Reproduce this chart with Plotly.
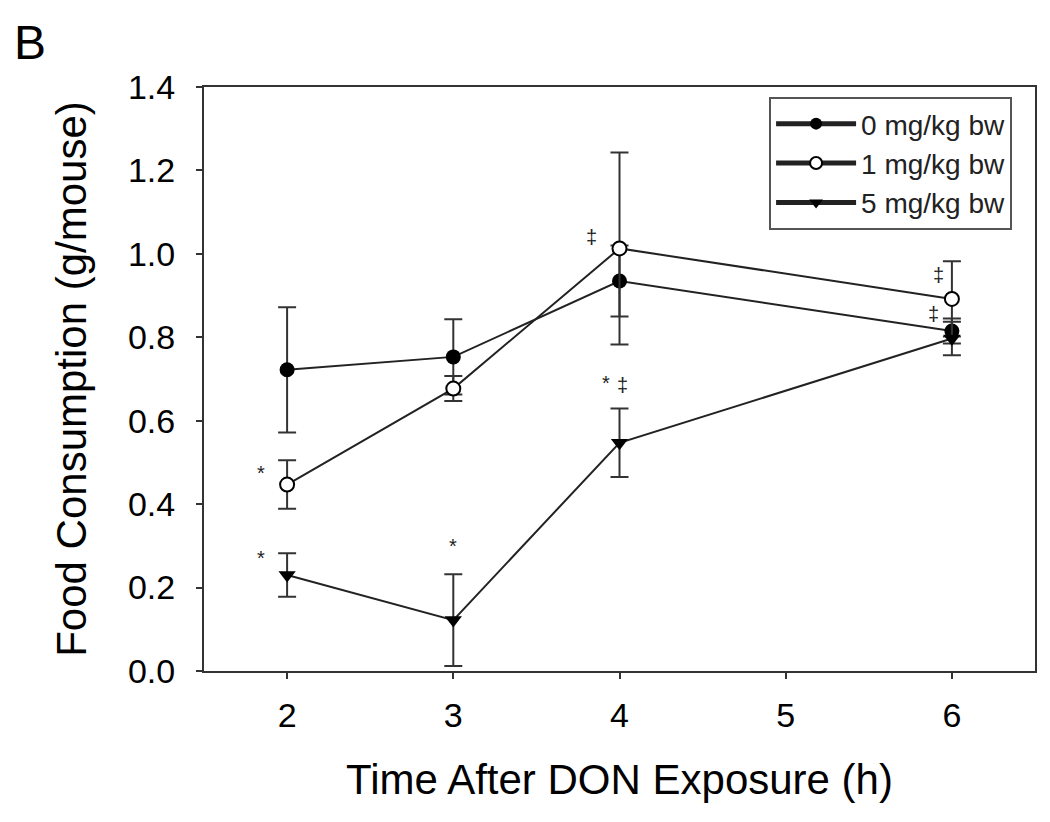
import plotly.graph_objects as go

times = [2, 3, 4, 6]
series_names = ["0 mg/kg bw", "1 mg/kg bw", "5 mg/kg bw"]
mean_0 = [0.722, 0.753, 0.935, 0.815]
err_0 = [0.150, 0.090, 0.085, 0.030]
mean_1 = [0.447, 0.677, 1.013, 0.892]
err_1 = [0.058, 0.030, 0.230, 0.090]
mean_5 = [0.230, 0.122, 0.547, 0.797]
err_5 = [0.052, 0.110, 0.082, 0.040]

marker_symbols = ["circle", "circle-open", "triangle-down"]

ann_x = [1.84, 1.84, 3.0, 3.92, 4.02, 3.83, 5.92, 5.89]
ann_y = [0.475, 0.27, 0.30, 0.69, 0.685, 1.04, 0.95, 0.855]
ann_text = ["*", "*", "*", "*", "‡", "‡", "‡", "‡"]

x_ticks = [2, 3, 4, 5, 6]
y_ticks = [0.0, 0.2, 0.4, 0.6, 0.8, 1.0, 1.2, 1.4]

FONT = "Liberation Sans, Arial, sans-serif"

fig = go.Figure()
for name, m, e, sym in zip(series_names, [mean_0, mean_1, mean_5], [err_0, err_1, err_5], marker_symbols):
    marker = dict(symbol=sym, size=15, color="black")
    if sym == "circle-open":
        marker = dict(symbol="circle", size=14, color="white", line=dict(color="black", width=2))
    fig.add_trace(go.Scatter(
        x=times, y=m, name=name, mode="lines+markers",
        line=dict(color="#222222", width=2),
        marker=marker,
        error_y=dict(type="data", array=e, visible=True, color="#333333", thickness=2, width=9),
    ))

for x, y, t in zip(ann_x, ann_y, ann_text):
    fig.add_annotation(x=x, y=y, text=t, showarrow=False,
                       font=dict(family=FONT, size=20, color="#222222"))

fig.add_annotation(x=-0.2096, y=1.0755, xref="paper", yref="paper",
                   text="B", showarrow=False, xanchor="center", yanchor="middle",
                   borderpad=0, font=dict(family=FONT, size=48, color="black"))

fig.update_layout(
    width=1050, height=822,
    margin=dict(l=196, r=23, t=79, b=159),
    paper_bgcolor="white", plot_bgcolor="white",
    font=dict(family=FONT, color="black"),
    showlegend=True,
    legend=dict(x=0.68, y=0.983, xanchor="left", yanchor="top",
                bgcolor="white", bordercolor="#555555", borderwidth=2,
                font=dict(family=FONT, size=28, color="#222222"),
                tracegroupgap=0, itemsizing="constant", itemwidth=80),
    xaxis=dict(range=[1.5, 6.5], tickvals=x_ticks, ticktext=[str(v) for v in x_ticks],
               showgrid=False, zeroline=False, showline=True, linecolor="#333333", linewidth=2,
               mirror=True, ticks="outside", ticklen=6, tickwidth=2, tickcolor="#333333",
               tickfont=dict(size=34, family=FONT), ticklabelstandoff=7,
               title=dict(text="Time After DON Exposure (h)", font=dict(size=42, family=FONT), standoff=32)),
    yaxis=dict(range=[0, 1.4], tickvals=y_ticks, ticktext=[f"{v:.1f}" for v in y_ticks],
               showgrid=False, zeroline=False, showline=True, linecolor="#333333", linewidth=2,
               mirror=True, ticks="outside", ticklen=6, tickwidth=2, tickcolor="#333333",
               tickfont=dict(size=34, family=FONT), ticklabelstandoff=14,
               title=dict(text="Food Consumption (g/mouse)", font=dict(size=42, family=FONT), standoff=28)),
)

fig.write_html("out.html")
